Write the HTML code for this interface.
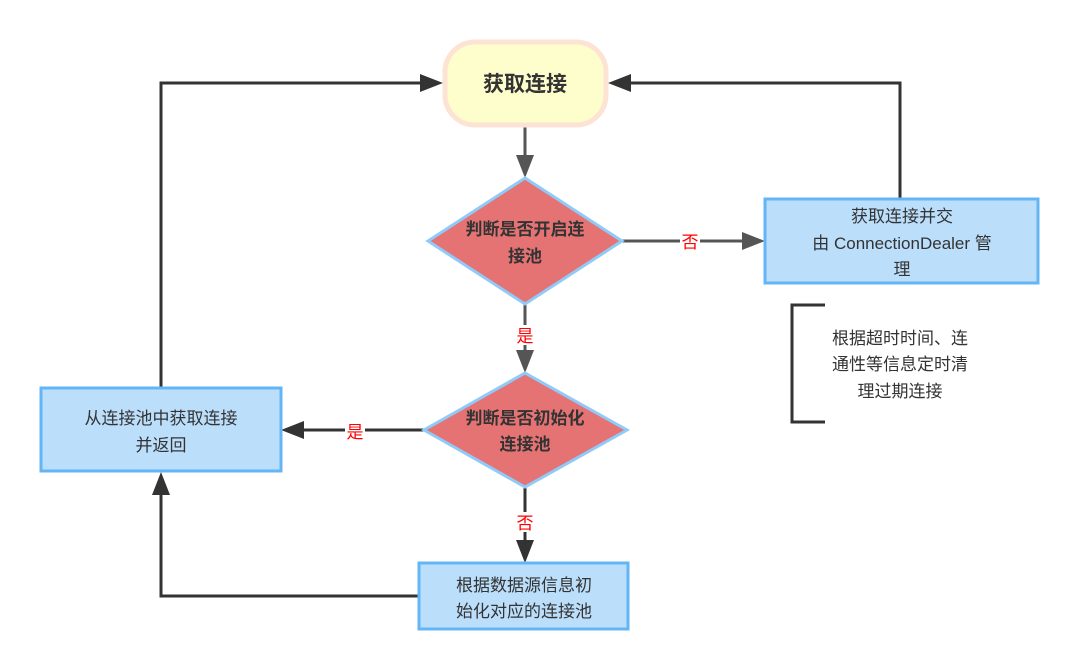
<!DOCTYPE html>
<html><head><meta charset="utf-8"><style>
html,body{margin:0;padding:0;background:#fff;width:1080px;height:671px;overflow:hidden}
text{font-family:"Liberation Sans","Noto Sans CJK SC",sans-serif;fill:#333;text-anchor:middle}
.r{fill:#f00}
</style></head><body>
<svg width="1080" height="671" viewBox="0 0 1080 671" xmlns="http://www.w3.org/2000/svg">
<defs>
<marker id="a" markerWidth="10" markerHeight="10" refX="9" refY="5" orient="auto" markerUnits="userSpaceOnUse" viewBox="0 0 10 10"><path d="M0,0 L10,5 L0,10 z" fill="#333"/></marker>
</defs>
<g stroke="#333" stroke-width="3" fill="none">
<!-- start to d1 -->
<path d="M525,127 V166" stroke="#555"/>
<path d="M516,155 L525,178 L534,155 z" fill="#555" stroke="none"/>
<!-- d1 to right box -->
<path d="M622,241 H750" stroke="#555"/>
<path d="M742,232 L765,241 L742,250 z" fill="#555" stroke="none"/>
<!-- right box up to start -->
<path d="M900,198 V83 H625"/>
<path d="M631,74 L608,83 L631,92 z" fill="#333" stroke="none"/>
<!-- d1 to d2 -->
<path d="M525,304 V362" stroke="#555"/>
<path d="M516,350 L525,373 L534,350 z" fill="#555" stroke="none"/>
<!-- d2 to left box -->
<path d="M424,430 H295"/>
<path d="M304,421 L281,430 L304,439 z" fill="#333" stroke="none"/>
<!-- left box up to start -->
<path d="M161,387 V83 H428"/>
<path d="M420,74 L443,83 L420,92 z" fill="#333" stroke="none"/>
<!-- d2 to bottom box -->
<path d="M525,487 V550"/>
<path d="M516,540 L525,563 L534,540 z" fill="#333" stroke="none"/>
<!-- bottom box to left box -->
<path d="M418,596 H161 V488"/>
<path d="M152,495 L161,472 L170,495 z" fill="#333" stroke="none"/>
<!-- bracket -->
<path d="M825,305 H792 V422 H825"/>
</g>
<!-- label backgrounds -->
<rect x="680" y="231" width="20" height="20" fill="#fff"/>
<rect x="515" y="325" width="20" height="20" fill="#fff"/>
<rect x="345" y="420" width="20" height="20" fill="#fff"/>
<rect x="515" y="512" width="20" height="20" fill="#fff"/>
<text class="r" x="690" y="248" font-size="17">否</text>
<text class="r" x="525" y="342" font-size="17">是</text>
<text class="r" x="355" y="438" font-size="17">是</text>
<text class="r" x="525" y="529" font-size="17">否</text>
<!-- start -->
<rect x="445" y="42" width="161" height="83" rx="30" fill="#fefdcc" stroke="#fde3d4" stroke-width="5"/>
<text x="525" y="91" font-size="21" font-weight="bold">获取连接</text>
<!-- diamond 1 -->
<polygon points="525,178 622,241 525,304 428,241" fill="#e57373" stroke="#90caf9" stroke-width="3"/>
<text x="525" y="235" font-size="17" font-weight="bold">判断是否开启连</text>
<text x="525" y="262" font-size="17" font-weight="bold">接池</text>
<!-- diamond 2 -->
<polygon points="525,373 627,430 525,487 424,430" fill="#e57373" stroke="#90caf9" stroke-width="3"/>
<text x="525" y="424" font-size="17" font-weight="bold">判断是否初始化</text>
<text x="525" y="450" font-size="17" font-weight="bold">连接池</text>
<!-- right box -->
<rect x="765" y="199" width="273" height="84" fill="#bbdefb" stroke="#64b5f6" stroke-width="3"/>
<text x="902" y="222" font-size="17">获取连接并交</text>
<text x="902" y="249" font-size="17">由 ConnectionDealer 管</text>
<text x="902" y="275" font-size="17">理</text>
<!-- left box -->
<rect x="41" y="388" width="240" height="83" fill="#bbdefb" stroke="#64b5f6" stroke-width="3"/>
<text x="161" y="424" font-size="17">从连接池中获取连接</text>
<text x="161" y="451" font-size="17">并返回</text>
<!-- bottom box -->
<rect x="419" y="563" width="209" height="66" fill="#bbdefb" stroke="#64b5f6" stroke-width="3"/>
<text x="524" y="591" font-size="17">根据数据源信息初</text>
<text x="524" y="617" font-size="17">始化对应的连接池</text>
<!-- note -->
<text x="900" y="344" font-size="17">根据超时时间、连</text>
<text x="900" y="370" font-size="17">通性等信息定时清</text>
<text x="900" y="397" font-size="17">理过期连接</text>
</svg>
</body></html>
